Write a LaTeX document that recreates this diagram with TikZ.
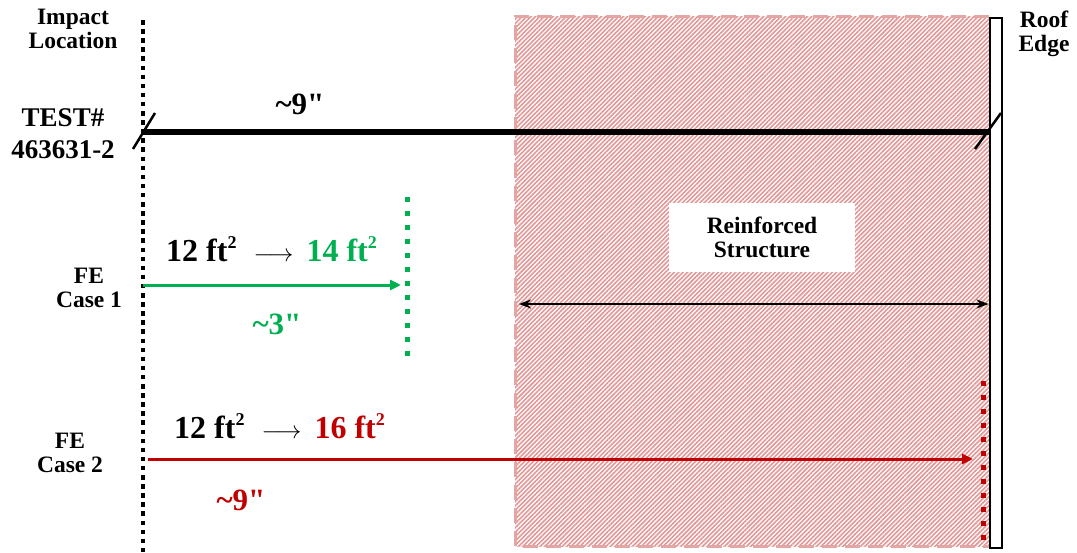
\documentclass[tikz,border=0pt]{standalone}
\usepackage{fontspec}
\setmainfont{Liberation Serif}
\usetikzlibrary{patterns.meta,arrows.meta}
\definecolor{fegreen}{RGB}{0,176,80}
\definecolor{fered}{RGB}{192,0,0}
\definecolor{hatchpink}{RGB}{226,150,150}
\definecolor{borderpink}{RGB}{228,165,165}
\newcommand{\sqtwo}{\raisebox{0.42em}{\fontsize{18}{18}\selectfont\bfseries 2}}
\newcommand{\areaarrow}{\hspace{17pt}$\longrightarrow$\hspace{13pt}}
\tikzset{
  lbl/.style={font=\bfseries\fontsize{23.5}{24.5}\selectfont, align=center, inner sep=0pt},
  biglbl/.style={font=\bfseries\fontsize{27}{32}\selectfont, align=center, inner sep=0pt},
  qlbl/.style={font=\bfseries\fontsize{31}{32}\selectfont, inner sep=0pt},
  arealbl/.style={font=\bfseries\fontsize{32}{32}\selectfont, inner sep=0pt, anchor=west},
  blackdots/.style={line width=4.5pt, dash pattern=on 4.5pt off 4.6pt},
  colordots/.style={line width=5pt, dash pattern=on 5pt off 9pt},
}
\begin{document}
\begin{tikzpicture}[x=1pt,y=-1pt]
\useasboundingbox (0,0) rectangle (1077,552);
% hatched reinforced region
\path[pattern={Lines[angle=45,distance=3.1pt,line width=1.6pt]},pattern color=hatchpink] (515,16) rectangle (989,546);
\draw[borderpink, line width=3pt, dash pattern=on 15pt off 8pt] (989,16) -- (515,16) -- (515,546) -- (989,546);
% roof edge
\node[draw, line width=2pt, fill=white, minimum width=12pt, minimum height=530pt, inner sep=0pt] (roof) at (995.5,282.5) {};
% impact location line
\coordinate (imptop) at (143,20);
\coordinate (impbot) at (143,552);
\draw[blackdots] (imptop) -- (impbot);
% labels
\node[lbl] (impact) at (73,29) {Impact\\Location};
\node[lbl] (roofedge) at (1044,34) {Roof\\Edge};
\node[biglbl] (test) at (63,134) {TEST\#\\463631-2};
\node[lbl] (fe1) at (89,288) {FE\\Case 1};
\node[lbl] (fe2) at (70,453) {FE\\Case 2};
% test line
\coordinate (tl) at (143,132);
\coordinate (tr) at (990,132);
\draw[line width=5.5pt] (tl) -- (tr);
\draw[line width=2.5pt] (133,149) -- (155,113);
\draw[line width=2.5pt] (975,149) -- (1001,113);
\node[qlbl] (t9) at (300,104) {\textasciitilde 9\textquotedbl};
% FE case 1
\coordinate (g0) at (143,285);
\coordinate (gtop) at (407,197);
\coordinate (gbot) at (407,356);
\draw[fegreen, colordots] (gtop) -- (gbot);
\draw[fegreen, line width=3pt, -{Triangle[length=11pt,width=10pt]}] (g0) -- (401,285);
\node[arealbl] (a1) at (166,249) {12 ft\sqtwo\areaarrow\textcolor{fegreen}{14 ft\sqtwo}};
\node[qlbl, text=fegreen] (g3) at (277,324) {\textasciitilde 3\textquotedbl};
% reinforced structure
\node[fill=white, minimum width=186pt, minimum height=69pt, inner sep=0pt] (rbox) at (762,237.5) {};
\node[lbl] (rtext) at (rbox) {Reinforced\\Structure};
\draw[line width=2pt, {Stealth[length=12pt,width=9pt]}-{Stealth[length=12pt,width=9pt]}] (519,304) -- (roof.west |- 0,304);
% FE case 2
\coordinate (rtop) at (983,381);
\coordinate (rbot) at (983,541);
\draw[fered, colordots] (rtop) -- (rbot);
\draw[fered, line width=3pt, -{Triangle[length=11pt,width=10pt]}] (148,459) -- (973,459);
\node[arealbl] (a2) at (174,426) {12 ft\sqtwo\areaarrow\textcolor{fered}{16 ft\sqtwo}};
\node[qlbl, text=fered] (r9) at (241,500) {\textasciitilde 9\textquotedbl};
\end{tikzpicture}
\end{document}
